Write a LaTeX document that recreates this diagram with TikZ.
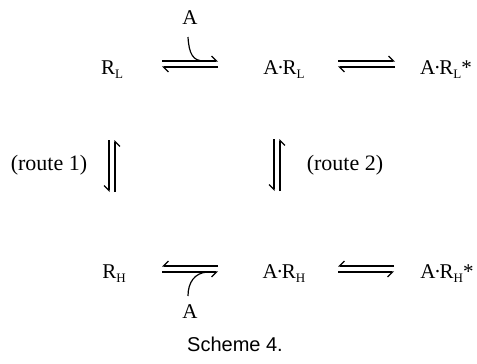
\documentclass[tikz,border=0pt]{standalone}
\usepackage{fontspec}
\setmainfont{Liberation Serif}
\newfontfamily\schemefont{Liberation Sans}
\usetikzlibrary{arrows.meta}

\newcommand{\chsub}[1]{\raisebox{-0.45ex}{\fontsize{13}{13}\selectfont #1}}
\newcommand{\adot}{\kern-1.5pt·\kern-1.5pt}

\begin{document}
\begin{tikzpicture}[
    x=1pt, y=-1pt,
    species/.style={font=\fontsize{21}{24}\selectfont, inner sep=0pt, anchor=base},
    routelabel/.style={font=\fontsize{22}{26}\selectfont, inner sep=0pt},
    fwd/.style={line width=1.2pt, -{Straight Barb[harpoon, length=5pt, width=10pt]}},
    rev/.style={line width=1.2pt, -{Straight Barb[harpoon, swap, length=5pt, width=10pt]}},
    feedline/.style={line width=1.2pt}
]
\useasboundingbox (0,0) rectangle (477,364);

% species
\node [species] (RL)   at (112,74)  {R\chsub{L}};
\node [species] (ARL)  at (284,74)  {A\adot R\chsub{L}};
\node [species] (ARLs) at (446,74)  {A\adot R\chsub{L}*};
\node [species] (RH)   at (114,278) {R\chsub{H}};
\node [species] (ARH)  at (284,278) {A\adot R\chsub{H}};
\node [species] (ARHs) at (447,278) {A\adot R\chsub{H}*};
\node [species] (Atop) at (190,24)  {A};
\node [species] (Abot) at (190,318) {A};

\node [routelabel] (route1) at (49,165)  {(route 1)};
\node [routelabel] (route2) at (345,165) {(route 2)};
\node [font=\schemefont\fontsize{20}{24}\selectfont, inner sep=0pt] (caption) at (235,344) {Scheme 4.};

% arrow ends
\coordinate (t1l) at (162,61);  \coordinate (t1r) at (218,61);
\coordinate (b1l) at (162,67);  \coordinate (b1r) at (218,67);
\coordinate (t2l) at (338,61);  \coordinate (t2r) at (395,61);
\coordinate (b2l) at (338,67);  \coordinate (b2r) at (395,67);
\coordinate (t3l) at (162,266); \coordinate (t3r) at (218,266);
\coordinate (b3l) at (162,272); \coordinate (b3r) at (218,272);
\coordinate (t4l) at (338,266); \coordinate (t4r) at (394,266);
\coordinate (b4l) at (338,272); \coordinate (b4r) at (394,272);
\coordinate (v1a) at (109,140); \coordinate (v1b) at (109,192);
\coordinate (v2a) at (115,140); \coordinate (v2b) at (115,192);
\coordinate (v3a) at (274,139); \coordinate (v3b) at (274,191);
\coordinate (v4a) at (280,139); \coordinate (v4b) at (280,191);
\coordinate (jtop) at (204,61);
\coordinate (jbot) at (207,272);

% top row
\draw [fwd] (t1l) -- (t1r);
\draw [fwd] (b1r) -- (b1l);
\draw [feedline] (188,37) .. controls (189,54) and (193,61) .. (jtop);
\draw [fwd] (t2l) -- (t2r);
\draw [fwd] (b2r) -- (b2l);

% vertical
\draw [rev] (v1a) -- (v1b);
\draw [rev] (v2b) -- (v2a);
\draw [rev] (v3a) -- (v3b);
\draw [rev] (v4b) -- (v4a);

% bottom row
\draw [rev] (t3r) -- (t3l);
\draw [rev] (b3l) -- (b3r);
\draw [feedline] (188,296) .. controls (188,282) and (195,273) .. (jbot);
\draw [rev] (t4r) -- (t4l);
\draw [rev] (b4l) -- (b4r);
\end{tikzpicture}
\end{document}
